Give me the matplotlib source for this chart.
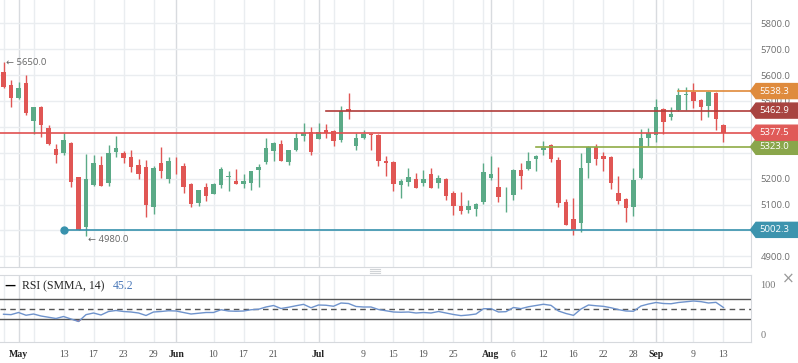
import matplotlib
matplotlib.use("Agg")
import matplotlib.pyplot as plt
from matplotlib.patches import Polygon
from matplotlib.transforms import blended_transform_factory

# daily candles, one per trading day (index 0..96)
opens = [5611, 5562, 5513, 5570, 5424, 5477, 5396, 5315, 5298, 5338,
         5207, 5012, 5176, 5253, 5185, 5302, 5299, 5284, 5253, 5245,
         5092, 5261, 5200, 5257, 5249, 5180, 5107, 5168, 5142, 5177,
         5208, 5191, 5181, 5185, 5234, 5266, 5308, 5334, 5266, 5312,
         5366, 5379, 5354, 5388, 5383, 5351, 5468, 5327, 5358, 5374,
         5369, 5268, 5265, 5177, 5188, 5199, 5185, 5218, 5185, 5199,
         5145, 5095, 5079, 5083, 5111, 5203, 5168, 5135, 5138, 5234,
         5237, 5276, 5311, 5331, 5272, 5110, 5044, 5030, 5262, 5324,
         5288, 5284, 5145, 5122, 5092, 5204, 5358, 5370, 5469, 5439,
         5465, 5524, 5535, 5504, 5482, 5531, 5407]
highs = [5650, 5581, 5572, 5600, 5478, 5482, 5407, 5334, 5378, 5340,
         5208, 5295, 5290, 5288, 5330, 5365, 5307, 5312, 5276, 5272,
         5248, 5322, 5285, 5285, 5262, 5183, 5157, 5185, 5183, 5245,
         5231, 5237, 5218, 5231, 5256, 5356, 5340, 5349, 5312, 5379,
         5415, 5400, 5415, 5411, 5388, 5481, 5531, 5378, 5387, 5378,
         5373, 5288, 5268, 5199, 5240, 5222, 5234, 5241, 5214, 5203,
         5153, 5149, 5118, 5106, 5261, 5288, 5245, 5168, 5236, 5261,
         5304, 5290, 5345, 5333, 5283, 5120, 5125, 5299, 5327, 5334,
         5303, 5288, 5210, 5124, 5241, 5392, 5396, 5508, 5471, 5477,
         5550, 5554, 5569, 5506, 5539, 5535, 5411]
lows = [5549, 5478, 5508, 5446, 5371, 5362, 5330, 5259, 5290, 5167,
        5000, 4980, 5171, 5171, 5172, 5283, 5262, 5225, 5199, 5053,
        5065, 5203, 5185, 5218, 5144, 5092, 5095, 5114, 5140, 5165,
        5154, 5180, 5165, 5158, 5168, 5258, 5270, 5268, 5254, 5308,
        5347, 5293, 5352, 5358, 5327, 5343, 5432, 5312, 5353, 5312,
        5250, 5212, 5154, 5127, 5173, 5163, 5172, 5163, 5165, 5119,
        5061, 5065, 5068, 5056, 5102, 5196, 5110, 5071, 5119, 5160,
        5235, 5230, 5292, 5265, 5092, 5020, 4984, 4995, 5204, 5253,
        5231, 5159, 5101, 5034, 5057, 5199, 5326, 5343, 5374, 5427,
        5463, 5465, 5473, 5427, 5438, 5388, 5342]
closes = [5555, 5513, 5551, 5455, 5477, 5409, 5333, 5293, 5349, 5188,
          5002, 5199, 5261, 5173, 5299, 5319, 5279, 5244, 5219, 5100,
          5241, 5231, 5268, 5255, 5169, 5103, 5156, 5133, 5178, 5237,
          5210, 5181, 5191, 5230, 5245, 5319, 5338, 5270, 5311, 5357,
          5378, 5304, 5379, 5375, 5347, 5463, 5463, 5357, 5373, 5367,
          5270, 5262, 5181, 5191, 5207, 5165, 5199, 5165, 5203, 5134,
          5095, 5076, 5095, 5102, 5226, 5218, 5129, 5137, 5234, 5212,
          5268, 5288, 5319, 5276, 5107, 5022, 5002, 5241, 5324, 5277,
          5277, 5185, 5115, 5088, 5195, 5357, 5376, 5477, 5420, 5451,
          5523, 5527, 5500, 5478, 5536, 5430, 5377.5]

rsi = [39.5, 38.7, 43, 37.5, 40, 36, 33.5, 31, 35, 30,
       25, 38.7, 42, 38, 45, 47, 45, 44, 42, 37,
       44, 45, 46.5, 46, 43, 40, 41.5, 43, 43, 48.5,
       46, 45.5, 46, 48.5, 49.5, 54, 57, 51, 53.5, 56.5,
       59.3, 52.5, 58, 57.5, 55.5, 62, 61, 55, 54, 54,
       49, 46.5, 44, 43.5, 44, 42, 43, 42, 45, 42,
       39, 36.7, 38, 40, 50.5, 50.7, 44, 44.7, 53, 50.7,
       54.5, 57, 59.5, 57.3, 46, 41, 37.3, 50, 58, 56.5,
       55.3, 52.5, 48.7, 46, 45.5, 56, 60, 63, 61, 60.5,
       63, 64.5, 66, 64.7, 62, 63.3, 53]

# x axis: labelled ticks (trading-day index -> label)
tick_idx = [2, 8, 12, 16, 20, 23, 28, 32, 36, 42, 48, 52, 56, 60,
            65, 68, 72, 76, 80, 84, 87, 92, 96]
tick_lab = ["May", "13", "17", "23", "29", "Jun", "10", "17", "21", "Jul",
            "9", "15", "19", "25", "Aug", "6", "12", "16", "22", "28",
            "Sep", "9", "13"]
month_idx = [2, 23, 42, 65, 87]
extra_grid = [0, 4, 40, 44, 64, 88]

# horizontal levels: (value, start index, line colour, tag colour)
levels = [(5002.3, 8, "#3892ad", "#3d94ae"),
          (5323.0, 71, "#8fac46", "#8aa64b"),
          (5538.3, 90, "#e08a3a", "#df8b3d"),
          (5462.9, 43, "#b03c3a", "#a84340"),
          (5377.5, -1, "#e05050", "#e05a58")]
rsi_last = 45.2

GREEN = "#5baa87"
RED = "#e05654"
GRID = "#eaedf0"

W, H = 798, 363
fig = plt.figure(figsize=(W / 100, H / 100), dpi=100)
ax = fig.add_axes([0, 1 - 266.7 / H, 750.7 / W, 266.7 / H])
ax2 = fig.add_axes([0, 1 - 341.7 / H, 750.7 / W, 66.7 / H])

n = len(opens)
xs = list(range(n))
xlim = (-0.47, 99.63)

# grid
for a in (ax, ax2):
    for g in sorted(set(tick_idx + extra_grid)):
        col = "#d8dbdf" if g in month_idx else GRID
        a.axvline(g, color=col, lw=1, zorder=0)
    a.set_xlim(*xlim)
    for s in ("left", "top"):
        a.spines[s].set_visible(False)
    for s in ("right", "bottom"):
        a.spines[s].set_color("#d6d9dd")
ax2.spines["top"].set_visible(True)
ax2.spines["top"].set_color("#d6d9dd")

price_ticks = list(range(4900, 5900, 100))
for p in price_ticks:
    ax.axhline(p, color=GRID, lw=1, zorder=0)

# candles
up = [c >= o for o, c in zip(opens, closes)]
cols = [GREEN if u else RED for u in up]
ax.vlines(xs, lows, highs, colors=cols, lw=1, zorder=2)
bottoms = [min(o, c) for o, c in zip(opens, closes)]
heights = [max(abs(c - o), 3.5) for o, c in zip(opens, closes)]
ax.bar(xs, heights, bottom=bottoms, width=0.66, color=cols, lw=0, zorder=3)

# level lines and price tags
tr = blended_transform_factory(fig.transFigure, ax.transData)
hh = 29
for val, start, lc, tc in levels:
    x0 = xlim[0] if start < 0 else start
    ax.plot([x0, xlim[1]], [val, val], color=lc, lw=1.2, zorder=4)
    pts = [(750.5 / W, val), (756 / W, val + hh), (1.0, val + hh),
           (1.0, val - hh), (756 / W, val - hh)]
    ax.add_patch(Polygon(pts, closed=True, transform=tr, color=tc,
                         clip_on=False, zorder=6))
    fig.text(774 / W, val, f"{val:.1f}", transform=tr, color="white",
             fontsize=6.8, family=["Open Sans", "DejaVu Sans"],
             ha="center", va="center", zorder=7)
ax.plot([levels[0][1]], [levels[0][0]], "o", color=levels[0][2], ms=5, zorder=5)

# high / low annotations
ih = highs.index(max(highs))
il = lows.index(min(lows))
ax.text(ih + 0.35, highs[ih], "\u2190 %.1f" % highs[ih], fontsize=6.8,
        color="#666666", family=["Open Sans", "DejaVu Sans"], va="center", zorder=5)
ax.text(il + 0.3, lows[il] - 16, "\u2190 %.1f" % lows[il], fontsize=6.8,
        color="#666666", family=["Open Sans", "DejaVu Sans"], va="center", zorder=5)

# price labels hidden under a tag are left blank, as in the original
tag_vals = [lv[0] for lv in levels]
price_labels = ["" if any(abs(p - v) < 30 for v in tag_vals) else f"{p:.1f}"
                for p in price_ticks]

ax.set_ylim(4860, 5890)
ax.yaxis.tick_right()
ax.set_yticks(price_ticks)
ax.set_yticklabels(price_labels, fontsize=6.8, color="#6e6e6e", family="Open Sans")
ax.tick_params(axis="y", length=0, pad=7)
ax.set_xticks([])

# RSI panel
ax2.plot(xs, rsi, color="#6f93cc", lw=1, zorder=3)
ax2.fill_between(xs, rsi, 30, where=[r < 30 for r in rsi], interpolate=True,
                 color="#e86a6a", lw=0, zorder=2)
ax2.axhline(70, color="#555555", lw=1, zorder=2)
ax2.axhline(30, color="#555555", lw=1, zorder=2)
ax2.axhline(50, color="#555555", lw=1, ls=(0, (4, 3)), zorder=2)
ax2.set_ylim(-15.4, 118)
ax2.yaxis.tick_right()
ax2.set_yticks([0, 100])
ax2.set_yticklabels(["0", "100"], fontsize=7.5, color="#777777",
                    family="Liberation Serif")
ax2.tick_params(axis="y", length=0, pad=7)
ax2.set_xticks(tick_idx)
ax2.set_xticklabels(tick_lab, fontsize=7, color="#555555", family="Liberation Serif")
for lab, t in zip(ax2.get_xticklabels(), tick_idx):
    if t in month_idx:
        lab.set_color("#222222")
        lab.set_fontweight("bold")
ax2.tick_params(axis="x", length=0, pad=6)

fig.text(10 / W, 1 - 286 / H, "\u2014", fontsize=8, color="black",
         ha="center", va="center", fontweight="bold")
fig.text(22.5 / W, 1 - 286 / H, "RSI (SMMA, 14)", fontsize=8.5,
         family="Liberation Serif", color="#222222", va="center")
fig.text(112.5 / W, 1 - 286 / H, f"{rsi_last}", fontsize=8.5,
         family="Liberation Serif", color="#4a78b8", va="center")
fig.text(788 / W, 1 - 279 / H, "\u00d7", fontsize=11, color="#999999",
         ha="center", va="center")
for dy in (269, 271, 273):
    fig.add_artist(plt.Line2D([370 / W, 380 / W], [1 - dy / H, 1 - dy / H],
                              color="#d0d3d6", lw=0.8))

fig.savefig("out.png", dpi=100)
